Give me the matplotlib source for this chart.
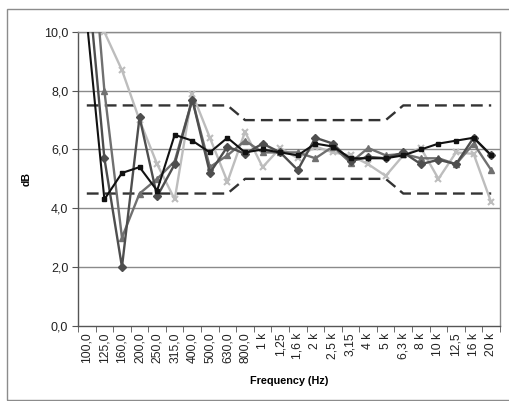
import matplotlib
matplotlib.use("Agg")
import matplotlib.pyplot as plt
import numpy as np
from matplotlib.patches import Rectangle

plt.rcParams['font.family'] = ['Liberation Sans', 'DejaVu Sans']

freq_labels = ["100,0", "125,0", "160,0", "200,0", "250,0", "315,0", "400,0",
               "500,0", "630,0", "800,0", "1 k", "1,25", "1,6 k", "2 k", "2,5 k",
               "3,15", "4 k", "5 k", "6,3 k", "8 k", "10 k", "12,5", "16 k", "20 k"]

series_black = [10.4, 4.3, 5.2, 5.4, 4.6, 6.5, 6.3, 5.9, 6.4, 5.9, 6.0, 5.9,
                5.8, 6.2, 6.1, 5.7, 5.7, 5.7, 5.8, 6.0, 6.2, 6.3, 6.4, 5.8]
series_diamond = [12.2, 5.7, 2.0, 7.1, 4.4, 5.5, 7.7, 5.2, 6.1, 5.85, 6.2, 5.9,
                  5.3, 6.4, 6.2, 5.6, 5.75, 5.7, 5.9, 5.5, 5.65, 5.5, 6.4, 5.8]
series_triangle = [15.2, 8.0, 3.0, 4.5, 5.0, 5.6, 7.7, 5.4, 5.8, 6.3, 5.9, 5.9,
                   5.9, 5.7, 6.1, 5.55, 6.05, 5.8, 5.85, 5.7, 5.7, 5.5, 6.2, 5.3]
series_light = [13.0, 10.0, 8.7, 7.0, 5.5, 4.3, 7.9, 6.4, 4.9, 6.6, 5.4, 6.05,
                5.7, 6.1, 5.9, 5.8, 5.5, 5.1, 5.8, 6.05, 5.0, 5.9, 5.85, 4.2]

upper_limit = [7.5] * 9 + [7.0] * 9 + [7.5] * 6
lower_limit = [4.5] * 9 + [5.0] * 9 + [4.5] * 6

yticks = [0, 2, 4, 6, 8, 10]
ytick_labels = ["0,0", "2,0", "4,0", "6,0", "8,0", "10,0"]

fig = plt.figure(figsize=(5.10, 4.01), dpi=100)
fig.patch.set_facecolor('white')
# outer chart frame
fig.patches.append(Rectangle((7 / 510, 1 / 401), 1.2, 1 - 10 / 401,
                             transform=fig.transFigure, fill=False,
                             edgecolor='#8c8c8c', linewidth=1.0))

ax = fig.add_axes([78 / 510, 1 - 325.7 / 401, 422 / 510, (325.7 - 32) / 401])
x = np.arange(len(freq_labels))

for yv in yticks[1:]:
    ax.axhline(yv, color='#8a8a8a', linewidth=1.0, zorder=1)

ax.plot(x, upper_limit, color='#333333', linewidth=1.7, dashes=(5, 2.6), zorder=2)
ax.plot(x, lower_limit, color='#333333', linewidth=1.7, dashes=(5, 2.6), zorder=2)

ax.plot(x, series_light, color='#bdbdbd', linewidth=1.7, marker='x',
        markersize=5, markeredgewidth=1.5, zorder=3)
ax.plot(x, series_triangle, color='#707070', linewidth=1.7, marker='^',
        markersize=4.5, zorder=4)
ax.plot(x, series_diamond, color='#4e4e4e', linewidth=1.7, marker='D',
        markersize=3.8, zorder=5)
ax.plot(x, series_black, color='#111111', linewidth=1.5, marker='s',
        markersize=3.5, zorder=6)

ax.set_xlim(-0.5, len(freq_labels) - 0.5)
ax.set_ylim(0, 10)
ax.set_yticks(yticks)
ax.set_yticklabels(ytick_labels, fontsize=9, color='#222222')
ax.set_xticks(x)
ax.set_xticklabels(freq_labels, rotation=90, fontsize=8.7, color='#222222')
ax.set_xticks(np.arange(-0.5, len(freq_labels), 1), minor=True)
ax.tick_params(axis='x', which='major', length=0, pad=5)
ax.tick_params(axis='x', which='minor', length=4, direction='out', color='#555555')
ax.tick_params(axis='y', length=4, direction='out', color='#555555', pad=3)

for s in ['left', 'bottom']:
    ax.spines[s].set_color('#555555')
    ax.spines[s].set_linewidth(1.0)
for s in ['right', 'top']:
    ax.spines[s].set_color('#8a8a8a')
    ax.spines[s].set_linewidth(1.0)

ax.set_xlabel("Frequency (Hz)", fontsize=7.8, fontweight='bold', labelpad=9)
ax.set_ylabel("dB", fontsize=7.5, fontweight='bold', labelpad=9)

fig.savefig("out.png", dpi=100, facecolor='white')
